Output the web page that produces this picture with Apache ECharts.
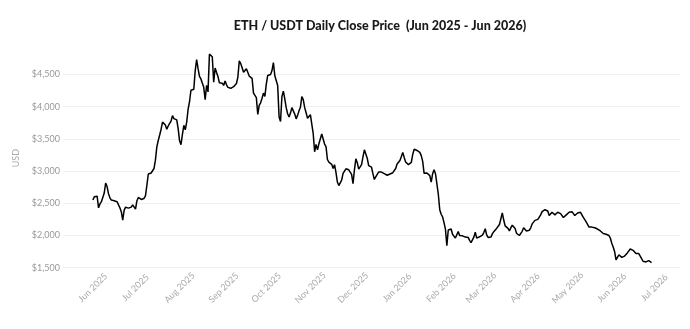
<!DOCTYPE html>
<html>
<head>
<meta charset="utf-8">
<script src="https://cdn.jsdelivr.net/npm/echarts@6/dist/echarts.min.js"></script>
<style>
html, body { margin: 0; padding: 0; background: #fff; }
#chart { width: 690px; height: 329px; }
</style>
</head>
<body>
<div id="chart"></div>
<script>
// daily closes, first value = seriesStart
var seriesStart = '2025-06-01';
var axisStart = '2025-05-11';
var axisEnd = '2026-07-19';

var jun2025 = [2551, 2600, 2615, 2610, 2430, 2490, 2525, 2535, 2660, 2815, 2760, 2650, 2585, 2550, 2545, 2540, 2530, 2525, 2520, 2430, 2370, 2240, 2390, 2440, 2432, 2425, 2428, 2440, 2475, 2485];
var jul2025 = [2410, 2540, 2590, 2565, 2560, 2565, 2575, 2615, 2780, 2955, 2975, 2970, 2985, 3040, 3170, 3375, 3475, 3560, 3650, 3760, 3755, 3715, 3650, 3700, 3740, 3775, 3860, 3815, 3825, 3795, 3660];
var aug2025 = [3470, 3410, 3570, 3710, 3640, 3760, 3960, 4080, 4255, 4258, 4270, 4560, 4730, 4590, 4470, 4430, 4450, 4300, 4110, 4330, 4230, 4815, 4790, 4775, 4380, 4600, 4530, 4470, 4370, 4375, 4365];
var sep2025 = [4330, 4400, 4340, 4300, 4300, 4285, 4300, 4310, 4315, 4360, 4460, 4710, 4670, 4605, 4535, 4505, 4590, 4585, 4475, 4478, 4440, 4210, 4175, 4140, 3880, 4020, 4060, 4130, 4210, 4160];
var oct2025 = [4350, 4485, 4510, 4500, 4560, 4685, 4480, 4510, 4330, 3840, 3770, 4160, 4240, 4120, 3985, 3890, 3840, 3900, 3985, 3978, 3885, 3810, 3865, 3935, 3990, 4155, 4110, 3985, 3905, 3820, 3840];
var nov2025 = [3875, 3890, 3580, 3300, 3415, 3330, 3425, 3420, 3575, 3555, 3420, 3380, 3180, 3140, 3110, 3105, 3040, 3100, 2980, 2830, 2775, 2795, 2860, 2965, 2990, 3035, 3030, 3020, 3005, 2950];
var dec2025 = [2805, 3020, 3190, 3130, 3030, 3050, 3100, 3220, 3330, 3300, 3200, 3085, 3110, 3060, 2960, 2870, 2840, 2950, 2985, 2990, 2985, 2985, 2960, 2940, 2935, 2950, 2955, 2955, 2975, 2990, 3040];
var jan2026 = [3110, 3130, 3165, 3225, 3290, 3210, 3140, 3110, 3100, 3105, 3135, 3260, 3340, 3350, 3320, 3300, 3290, 3240, 3150, 2965, 2985, 2970, 2960, 2930, 2830, 2960, 3020, 2960, 2800, 2640, 2400];
var feb2026 = [2330, 2290, 2200, 2100, 1840, 2085, 2105, 2100, 2020, 1990, 1960, 1990, 2060, 2000, 1985, 1995, 1980, 1975, 1975, 1970, 1925, 1890, 1860, 1975, 2050, 1960, 1960, 1980];
var mar2026 = [2010, 2005, 2045, 2105, 2010, 1970, 1955, 1975, 2025, 2060, 2085, 2110, 2135, 2170, 2260, 2350, 2240, 2150, 2135, 2110, 2070, 2120, 2160, 2140, 2110, 2035, 2010, 2000, 2010, 2065, 2120];
var apr2026 = [2105, 2070, 2060, 2080, 2120, 2180, 2210, 2235, 2230, 2250, 2225, 2320, 2370, 2365, 2400, 2420, 2380, 2310, 2320, 2360, 2350, 2320, 2320, 2360, 2380, 2340, 2310, 2280, 2300, 2320];
var may2026 = [2340, 2360, 2380, 2370, 2340, 2310, 2320, 2350, 2380, 2360, 2320, 2280, 2260, 2210, 2180, 2130, 2120, 2130, 2130, 2120, 2110, 2100, 2100, 2070, 2060, 2030, 2020, 2020, 2010, 2000, 1960];
var jun2026 = [1880, 1820, 1750, 1620, 1590, 1700, 1690, 1660, 1690, 1680, 1700, 1730, 1750, 1790, 1800, 1770, 1740, 1720, 1740, 1720, 1690, 1640, 1600, 1590, 1590, 1590, 1610, 1630, 1580];

var monthNames = ['Jan', 'Feb', 'Mar', 'Apr', 'May', 'Jun', 'Jul', 'Aug', 'Sep', 'Oct', 'Nov', 'Dec'];

var closes = [].concat(jun2025, jul2025, aug2025, sep2025, oct2025, nov2025,
    dec2025, jan2026, feb2026, mar2026, apr2026, may2026, jun2026);

var DAY = 86400000;
var dates = [];
var values = [];
var t0 = Date.parse(axisStart), t1 = Date.parse(axisEnd), ts = Date.parse(seriesStart);
for (var t = t0; t <= t1; t += DAY) {
    dates.push(new Date(t).toISOString().slice(0, 10));
    var i = Math.round((t - ts) / DAY);
    values.push(i >= 0 && i < closes.length ? closes[i] : '-');
}

var myChart = echarts.init(document.getElementById('chart'));
myChart.setOption({
    backgroundColor: '#fff',
    animation: false,
    title: {
        text: 'ETH / USDT Daily Close Price  (Jun 2025 - Jun 2026)',
        left: 375,
        top: 14,
        textAlign: 'center',
        textStyle: {
            fontFamily: 'Lato',
            fontSize: 12.5,
            fontWeight: 900,
            color: '#1a1a1a'
        }
    },
    grid: {
        left: 63,
        right: 10,
        top: 48.7,
        bottom: 61.3
    },
    xAxis: {
        type: 'category',
        data: dates,
        boundaryGap: false,
        axisLine: {show: false},
        axisTick: {show: false},
        splitLine: {show: false},
        axisLabel: {
            interval: function (idx, val) {
                return val.slice(8) === '01';
            },
            formatter: function (val) {
                return monthNames[+val.slice(5, 7) - 1] + ' ' + val.slice(0, 4);
            },
            rotate: 45,
            align: 'center',
            verticalAlign: 'middle',
            margin: 20,
            color: '#aaa',
            fontSize: 9,
            fontFamily: 'Lato'
        }
    },
    yAxis: {
        type: 'value',
        min: 1500,
        max: 4900,
        interval: 500,
        name: 'USD',
        nameLocation: 'middle',
        nameGap: 36,
        nameTextStyle: {
            color: '#aaa',
            fontSize: 9,
            fontFamily: 'Lato'
        },
        axisLine: {show: false},
        axisTick: {show: false},
        axisLabel: {
            showMaxLabel: false,
            margin: 3,
            color: '#999',
            fontSize: 9,
            fontFamily: 'Lato',
            formatter: function (v) {
                return '$' + v.toLocaleString('en-US');
            }
        },
        splitLine: {
            showMaxLine: false,
            lineStyle: {color: '#f0f0f0'}
        }
    },
    series: [{
        type: 'line',
        data: values,
        showSymbol: false,
        silent: true,
        lineStyle: {
            color: '#000',
            width: 1.5
        }
    }]
});
</script>
</body>
</html>
